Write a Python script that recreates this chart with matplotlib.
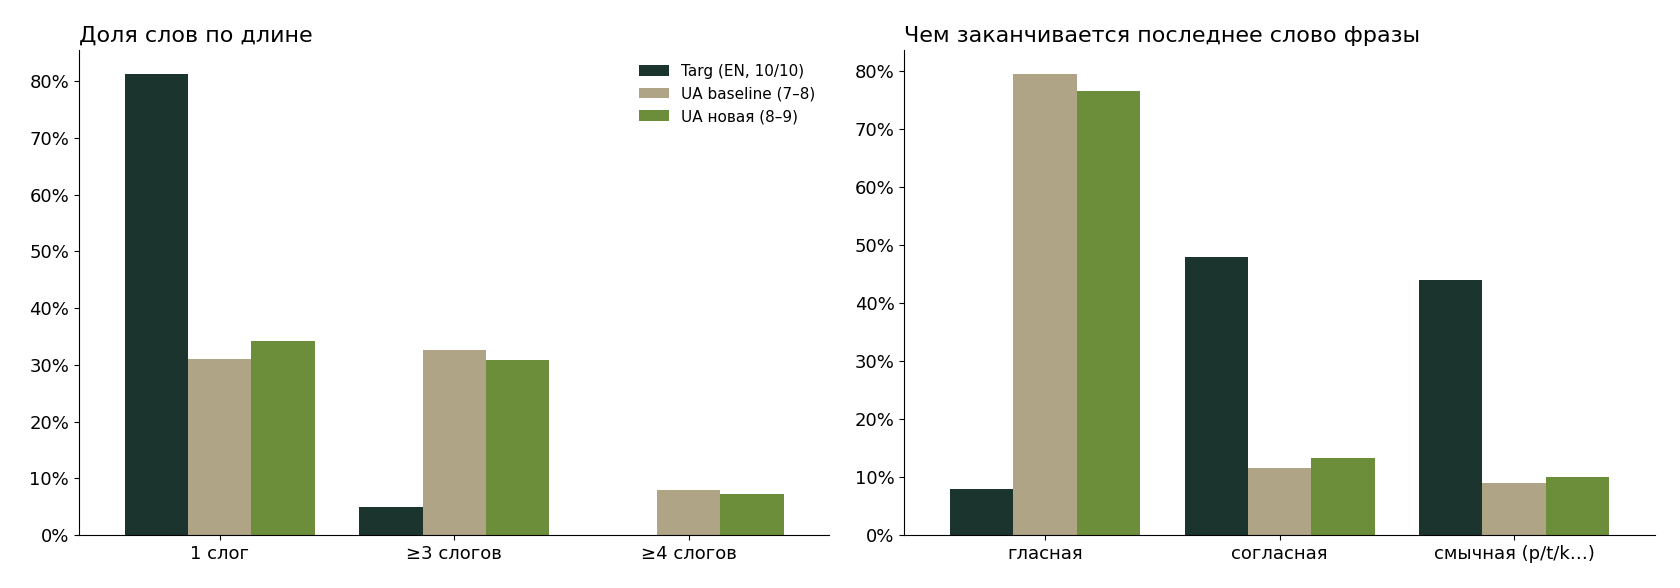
import matplotlib
matplotlib.use("Agg")
import matplotlib.pyplot as plt
import numpy as np
from matplotlib.ticker import PercentFormatter

series = ["Targ (EN, 10/10)", "UA baseline (7–8)", "UA новая (8–9)"]
colors = ["#1b342e", "#b0a486", "#6c8e3a"]
left_cats = ["1 слог", "≥3 слогов", "≥4 слогов"]
left_vals = [[81.3, 5.0, 0.0], [31.0, 32.6, 8.0], [34.2, 30.8, 7.3]]
right_cats = ["гласная", "согласная", "смычная (p/t/k…)"]
right_vals = [[8.0, 48.0, 44.0], [79.4, 11.5, 9.0], [76.6, 13.2, 10.0]]

fig, axes = plt.subplots(1, 2, figsize=(16.8, 5.88), dpi=100)
w = 0.27
for ax, cats, vals, title, top in [
    (axes[0], left_cats, left_vals, "Доля слов по длине", 85.5),
    (axes[1], right_cats, right_vals, "Чем заканчивается последнее слово фразы", 83.6)]:
    x = np.arange(len(cats))
    for i, (s, v, c) in enumerate(zip(series, vals, colors)):
        ax.bar(x + (i - 1) * w, v, w, color=c, label=s)
    ax.set_xticks(x)
    ax.set_xticklabels(cats, fontsize=13)
    ax.yaxis.set_major_formatter(PercentFormatter(decimals=0))
    ax.set_yticks(range(0, 81, 10))
    ax.tick_params(axis='y', labelsize=13)
    ax.set_ylim(0, top)
    ax.set_title(title, loc="left", fontsize=16)
    ax.spines[["top", "right"]].set_visible(False)
    ax.set_xlim(-0.6, 2.6)
axes[0].legend(frameon=False, fontsize=11, loc="upper right")
plt.subplots_adjust(left=0.047, right=0.985, bottom=0.09, top=0.915, wspace=0.1)
fig.savefig("out.png")
